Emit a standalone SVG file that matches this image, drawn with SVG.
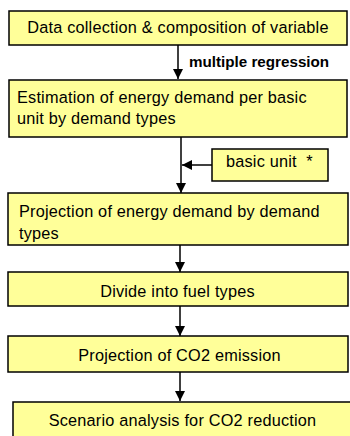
<svg xmlns="http://www.w3.org/2000/svg" width="350" height="436" viewBox="0 0 350 436">
  <defs>
    <marker id="arrow" markerUnits="userSpaceOnUse" markerWidth="10" markerHeight="10" viewBox="0 0 10 10" refX="10" refY="5" orient="auto">
      <path d="M0,0 L10,5 L0,10 Z" fill="#000"/>
    </marker>
    <style>
      .box { fill: #ffff99; stroke: #000; stroke-width: 1.5; }
      .txt { font-family: "Liberation Sans", Arial, sans-serif; font-size: 16.3px; letter-spacing: 0.2px; fill: #000; }
      .mid { text-anchor: middle; }
      .lbl { font-family: "Liberation Sans", Arial, sans-serif; font-size: 15.2px; font-weight: bold; fill: #000; }
      .conn { stroke: #000; stroke-width: 1.5; fill: none; marker-end: url(#arrow); }
    </style>
  </defs>

  <g id="connectors">
    <line class="conn" x1="178" y1="45" x2="178" y2="79"/>
    <line class="conn" x1="181" y1="137" x2="181" y2="193"/>
    <line class="conn" x1="212" y1="165" x2="182" y2="165"/>
    <line class="conn" x1="180" y1="245" x2="180" y2="272"/>
    <line class="conn" x1="180" y1="306" x2="180" y2="336"/>
    <line class="conn" x1="180" y1="372" x2="180" y2="401"/>
    <text class="lbl" x="189" y="67">multiple regression</text>
  </g>

  <g id="data-collection">
    <rect class="box" x="9" y="11" width="338" height="34"/>
    <text class="txt mid" x="178" y="33">Data collection &amp; composition of variable</text>
  </g>

  <g id="estimation">
    <rect class="box" x="9" y="80" width="338" height="57"/>
    <text class="txt" x="17" y="103">Estimation of energy demand per basic</text>
    <text class="txt" x="17" y="124">unit by demand types</text>
  </g>

  <g id="basic-unit">
    <rect class="box" x="212" y="149" width="116" height="32"/>
    <text class="txt" x="226" y="167">basic unit&#160; *</text>
  </g>

  <g id="projection-demand">
    <rect class="box" x="8" y="193" width="340" height="52"/>
    <text class="txt" x="19" y="217">Projection of energy demand by demand</text>
    <text class="txt" x="19" y="239">types</text>
  </g>

  <g id="fuel-types">
    <rect class="box" x="8" y="272" width="340" height="34"/>
    <text class="txt mid" x="177.5" y="296.5">Divide into fuel types</text>
  </g>

  <g id="projection-co2">
    <rect class="box" x="8" y="336" width="340" height="36"/>
    <text class="txt mid" x="179.5" y="361">Projection of CO2 emission</text>
  </g>

  <g id="scenario">
    <rect class="box" x="13" y="402" width="345" height="44"/>
    <text class="txt mid" x="182.5" y="425.5">Scenario analysis for CO2 reduction</text>
  </g>
</svg>
